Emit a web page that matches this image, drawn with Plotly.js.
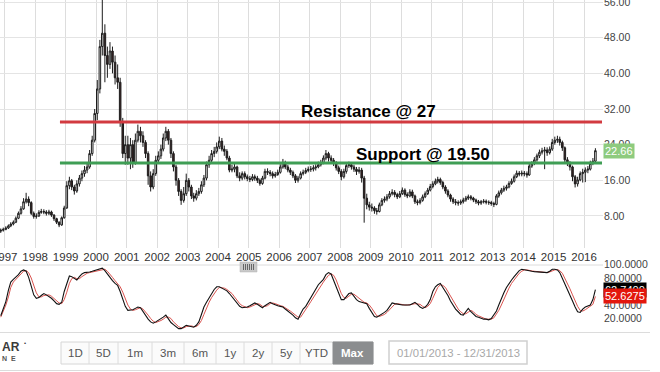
<!DOCTYPE html>
<html><head><meta charset="utf-8">
<script src="https://cdn.plot.ly/plotly-3.0.1.min.js"></script>
<style>html,body{margin:0;padding:0;background:#fff;overflow:hidden}#chart{width:660px;height:372px}</style>
</head><body><div id="chart"></div>
<script>
// ---- DATA (monthly, Nov 1996 .. May 2016) ----
const startYear = 1996, startMonth = 11;
const firstOpen = 4.6;
const closeP = [
 4.8, 5.0,
 5.3, 5.8, 6.2, 6.6, 7.5, 8.6, 9.6, 11.2, 11.8, 11.0, 8.6, 7.9,
 8.0, 8.8, 9.0, 8.9, 8.6, 8.9, 8.2, 7.4, 6.6, 6.0, 7.6, 9.8,
 14.8, 15.9, 14.5, 13.6, 15.2, 16.5, 17.5, 18.3, 19.0, 22.0, 25.0, 31.0,
 36.5, 46.0, 49.0, 44.0, 42.0, 45.0, 42.5, 39.0, 38.0, 29.0, 22.0, 24.0,
 21.0, 24.0, 20.0, 25.0, 27.0, 26.0, 24.5, 22.0, 17.0, 14.5, 17.5, 20.5,
 21.5, 23.0, 25.5, 27.0, 25.0, 22.0, 19.0, 16.0, 13.5, 11.5, 13.0, 16.0,
 14.5, 12.5, 12.0, 13.0, 13.5, 15.0, 16.5, 19.5, 20.5, 22.0, 22.5, 23.5,
 24.8, 23.0, 22.5, 21.0, 18.3, 18.5, 19.0, 17.0, 16.5, 17.5, 16.8, 16.4,
 16.2, 16.8, 16.5, 16.0, 15.3, 16.5, 18.0, 17.8, 17.5, 17.0, 17.3, 17.8,
 19.0, 20.0, 19.0, 18.3, 17.8, 17.0, 16.0, 16.5, 17.5, 17.8, 18.2, 18.5,
 18.5, 18.8, 19.0, 19.5, 20.0, 21.0, 22.0, 21.0, 20.5, 19.8, 18.8, 18.0,
 16.8, 18.0, 19.3, 19.5, 19.0, 18.5, 18.0, 18.3, 16.5, 12.0, 10.5, 10.0,
 9.8, 9.2, 9.0, 10.5, 11.5, 11.8, 12.3, 13.0, 13.3, 12.8, 12.3, 13.0,
 13.8, 12.8, 12.5, 13.4, 12.5, 11.2, 11.0, 11.5, 12.3, 13.0, 13.8, 14.6,
 15.2, 15.8, 16.2, 15.5, 14.5, 13.6, 12.7, 11.8, 11.2, 11.0, 10.9, 11.2,
 11.6, 12.0, 12.3, 12.0, 11.6, 11.2, 10.9, 11.2, 11.3, 11.1, 11.0, 10.8,
 10.6, 12.5, 13.2, 13.8, 14.2, 14.5, 15.3, 15.8, 16.8, 17.6, 17.4, 17.6,
 17.5, 17.2, 19.2, 19.8, 20.6, 21.5, 22.3, 22.6, 22.8, 22.2, 23.0, 24.5,
 25.0, 25.2, 24.5, 23.3, 20.6, 19.8, 19.0, 16.8, 15.2, 16.1, 17.5, 17.8,
 18.3, 18.5, 19.8, 20.3, 22.66
];
const highP = [
 5.2, 5.4,
 5.7, 6.1, 6.6, 7.0, 7.9, 9.0, 10.2, 12.0, 13.2, 12.4, 11.3, 9.0,
 8.6, 9.3, 9.6, 9.5, 9.3, 9.4, 9.2, 8.4, 7.6, 6.8, 7.9, 10.3,
 15.8, 16.8, 16.3, 15.0, 16.0, 17.2, 18.2, 19.2, 20.0, 22.8, 26.0, 32.0,
 38.5, 47.5, 56.5, 51.0, 46.0, 47.0, 46.0, 44.0, 42.0, 39.0, 30.0, 26.0,
 26.0, 25.5, 25.0, 26.5, 28.5, 28.0, 27.0, 25.0, 22.5, 18.0, 18.5, 21.5,
 22.5, 24.0, 26.5, 28.0, 27.5, 25.5, 22.5, 19.5, 16.5, 14.0, 14.5, 17.5,
 16.5, 15.0, 13.2, 13.8, 14.3, 15.8, 17.2, 20.2, 21.5, 22.8, 23.5, 24.5,
 25.8, 25.5, 23.8, 23.0, 21.5, 19.5, 19.8, 19.3, 17.8, 18.0, 18.0, 17.3,
 17.0, 17.4, 17.3, 17.0, 16.4, 17.0, 18.6, 18.7, 18.3, 18.0, 17.9, 18.4,
 19.6, 20.8, 20.4, 19.5, 18.8, 18.2, 17.4, 17.0, 18.0, 18.4, 18.8, 19.1,
 19.2, 19.4, 19.6, 20.2, 20.6, 21.6, 22.8, 22.4, 21.6, 21.0, 20.3, 19.3,
 18.5, 18.6, 20.0, 20.2, 20.0, 19.5, 19.0, 19.0, 18.8, 17.0, 13.0, 11.2,
 10.8, 10.2, 9.8, 11.0, 12.0, 12.4, 12.9, 13.6, 14.0, 13.8, 13.2, 13.6,
 14.4, 14.2, 13.3, 14.0, 13.9, 12.8, 11.7, 12.0, 12.8, 13.5, 14.3, 15.2,
 15.8, 16.4, 16.8, 16.6, 15.9, 14.9, 14.0, 13.0, 12.2, 11.8, 11.5, 11.7,
 12.1, 12.5, 12.8, 12.7, 12.3, 11.9, 11.6, 11.6, 11.8, 11.7, 11.5, 11.4,
 11.2, 12.9, 13.7, 14.3, 14.8, 15.0, 15.8, 16.4, 17.3, 18.2, 18.1, 18.2,
 18.1, 18.0, 19.7, 20.3, 21.2, 22.0, 22.9, 23.3, 23.5, 23.4, 23.6, 25.3,
 25.8, 26.0, 25.8, 24.9, 23.6, 21.2, 20.3, 19.3, 17.2, 16.8, 18.0, 18.6,
 18.9, 19.2, 20.4, 21.0, 23.2
];
const lowP = [
 4.2, 4.5,
 4.8, 5.1, 5.5, 5.9, 6.4, 7.3, 8.3, 9.4, 10.8, 10.2, 8.2, 7.4,
 7.4, 7.8, 8.5, 8.4, 8.1, 8.2, 7.8, 6.9, 6.2, 5.5, 5.8, 7.4,
 9.6, 14.0, 13.8, 12.8, 13.2, 14.6, 15.8, 16.8, 17.6, 18.6, 21.5, 24.5,
 29.5, 35.5, 44.0, 38.0, 39.0, 41.0, 40.0, 37.5, 36.5, 28.0, 21.0, 19.5,
 19.5, 18.5, 18.8, 19.5, 24.5, 24.5, 23.5, 21.0, 15.0, 13.5, 14.0, 17.0,
 19.8, 20.8, 22.5, 24.8, 24.0, 21.0, 18.0, 14.8, 12.5, 10.5, 11.0, 12.5,
 13.5, 11.8, 11.2, 11.5, 12.5, 13.0, 14.5, 16.0, 18.8, 20.0, 21.2, 22.0,
 23.0, 22.5, 21.5, 20.5, 17.8, 17.8, 17.8, 16.5, 15.8, 16.0, 16.2, 15.8,
 15.6, 15.8, 15.9, 15.4, 14.8, 15.0, 16.2, 17.2, 16.9, 16.4, 16.6, 17.0,
 17.5, 18.6, 18.5, 17.8, 17.2, 16.5, 15.4, 15.5, 16.2, 17.1, 17.4, 17.8,
 17.9, 18.0, 18.2, 18.7, 19.1, 19.6, 20.5, 20.2, 19.8, 19.2, 18.2, 17.4,
 16.0, 16.4, 17.5, 18.8, 18.4, 17.9, 17.2, 17.5, 15.5, 6.5, 9.5, 9.2,
 9.0, 8.5, 8.3, 8.8, 10.2, 11.0, 11.3, 11.9, 12.6, 12.2, 11.8, 12.0,
 12.7, 12.3, 12.0, 12.2, 12.0, 10.7, 10.4, 10.6, 11.2, 12.0, 12.7, 13.5,
 14.2, 14.9, 15.3, 15.0, 14.0, 13.0, 12.2, 11.2, 10.7, 10.4, 10.3, 10.5,
 10.8, 11.2, 11.6, 11.5, 11.1, 10.7, 10.4, 10.5, 10.8, 10.6, 10.5, 10.3,
 10.0, 10.4, 12.1, 12.8, 13.4, 13.7, 14.2, 15.0, 15.5, 16.5, 16.9, 16.9,
 16.9, 16.6, 17.0, 18.8, 19.4, 20.2, 21.0, 21.8, 18.5, 21.5, 21.8, 22.6,
 24.0, 24.4, 23.8, 22.6, 20.0, 19.2, 18.2, 15.8, 14.4, 14.6, 15.8, 15.5,
 15.6, 17.6, 18.2, 19.4, 20.1
];
const stochK = [
 24, 35,
 45, 62, 74, 78, 81, 85, 90, 92, 90, 81, 68, 55,
 50, 51, 54, 57, 55, 53, 50, 46, 42, 41, 44, 60,
 72, 83, 82, 79, 77, 82, 86, 88, 88, 89, 90, 91,
 92, 93, 94.5, 91, 86, 80, 76, 72, 69, 60, 49, 38,
 32, 32, 33, 35, 37, 36, 30, 25, 19, 15, 13, 15,
 17, 19, 22, 25, 20, 14, 11, 8, 5, 5, 8, 10,
 9, 8, 7, 10, 15, 26, 37, 44, 51, 57, 63, 67,
 67, 65, 63, 61, 57, 52, 47, 42, 38, 36, 36, 37,
 39, 41, 43, 41, 38, 36, 39, 42, 44, 42, 40, 39,
 38, 37, 34, 31, 29, 25, 21, 19, 27, 34, 38, 44,
 52, 58, 64, 70, 74, 78, 85, 88, 86, 77, 67, 57,
 48, 48, 53, 57, 58, 53, 48, 45, 44, 44, 42, 35,
 28, 23, 22, 24, 27, 29, 32, 38, 43, 42, 41, 40,
 40, 40, 40, 40, 42, 44, 41, 37, 35, 37, 41, 48,
 60, 67, 70, 72, 66, 60, 54, 46, 39, 34, 30, 26,
 25, 30, 35, 30, 26, 23, 22, 20, 19, 19, 18, 20,
 26, 31, 40, 50, 58, 66, 72, 77, 82, 87, 91, 93,
 92, 91, 90.5, 90, 89.5, 89, 89, 88.5, 88, 88, 90, 93,
 93, 92, 88, 80, 72, 64, 55, 46, 37, 30, 29, 34,
 37, 38, 40, 48, 62.74
];
const stochD = [
 22, 30,
 40, 52, 66, 74, 78, 82, 86, 90, 91, 88, 80, 68,
 58, 52, 52, 54, 55, 55, 53, 50, 46, 43, 42, 48,
 59, 72, 79, 81, 79, 79, 82, 85, 87, 88, 89, 90,
 91, 92, 93, 93, 90, 86, 81, 76, 72, 67, 59, 49,
 40, 34, 32, 33, 35, 36, 34, 30, 25, 20, 16, 14,
 15, 17, 19, 22, 22, 20, 15, 11, 8, 6, 6, 8,
 9, 9, 8, 8, 11, 17, 26, 36, 44, 51, 57, 62,
 66, 66, 65, 63, 60, 57, 52, 47, 42, 39, 37, 36,
 37, 39, 41, 42, 41, 38, 38, 39, 42, 43, 42, 40,
 39, 38, 36, 34, 31, 28, 25, 22, 22, 27, 33, 39,
 45, 51, 58, 64, 69, 74, 79, 84, 86, 84, 77, 67,
 57, 51, 50, 53, 56, 56, 53, 49, 46, 44, 43, 40,
 35, 29, 24, 23, 24, 26, 29, 33, 38, 41, 42, 41,
 40, 40, 40, 40, 41, 42, 42, 41, 38, 36, 38, 42,
 50, 58, 66, 70, 69, 66, 60, 53, 46, 40, 34, 30,
 27, 27, 30, 32, 30, 26, 24, 22, 20, 19, 19, 19,
 21, 26, 32, 40, 49, 58, 65, 72, 77, 82, 87, 90,
 92, 92, 91, 90.5, 90, 89.5, 89, 89, 88.5, 88, 89, 91,
 92, 92.5, 91, 87, 80, 72, 64, 55, 46, 38, 32, 31,
 33, 36, 38, 41, 52.6275
];
const priceTicks = [8, 16, 24, 32, 40, 48, 56];
const oscTicks = [20, 40, 60, 80, 100];
const resistanceLabel = 'Resistance @ 27';
const supportLabel = 'Support @ 19.50';
const buttonLabels = ['1D', '5D', '1m', '3m', '6m', '1y', '2y', '5y', 'YTD', 'Max'];
const dateRangeText = '01/01/2013 - 12/31/2013';

// ---- derived ----
const months = closeP.map((_, i) => {
  const m0 = startMonth - 1 + i;
  const y = startYear + Math.floor(m0 / 12);
  const m = (m0 % 12) + 1;
  return y + '-' + String(m).padStart(2, '0') + '-15';
});
const openP = [firstOpen].concat(closeP.slice(0, -1));
const lastPrice = closeP[closeP.length - 1];
const lastK = stochK[stochK.length - 1];
const lastD = stochD[stochD.length - 1];

// ---- layout helpers ----
const W = 660, H = 372;
const px = v => v / W, py = v => 1 - v / H;
const FONT = 'Arial, "Liberation Sans", sans-serif';

const traces = [
  {
    type: 'candlestick', x: months, open: openP, high: highP, low: lowP, close: closeP,
    xaxis: 'x', yaxis: 'y', whiskerwidth: 0,
    increasing: { line: { color: '#1c1c1c', width: 1 }, fillcolor: '#ffffff' },
    decreasing: { line: { color: '#1c1c1c', width: 1 }, fillcolor: '#3d2222' },
    hoverinfo: 'skip'
  },
  { type: 'scatter', mode: 'lines', x: months, y: stochD, xaxis: 'x2', yaxis: 'y2',
    line: { color: '#d9534f', width: 1 }, hoverinfo: 'skip' },
  { type: 'scatter', mode: 'lines', x: months, y: stochK, xaxis: 'x2', yaxis: 'y2',
    line: { color: '#111111', width: 1.1 }, hoverinfo: 'skip' }
];

const P = (o) => Object.assign({ xref: 'paper', yref: 'paper' }, o);
const shapes = [
  { type: 'line', xref: 'x', yref: 'y', x0: '1998-10-25', x1: '2016-08-02', y0: 29.1, y1: 29.1,
    line: { color: '#d23a40', width: 3 } },
  { type: 'line', xref: 'x', yref: 'y', x0: '1998-10-25', x1: '2016-08-02', y0: 19.9, y1: 19.9,
    line: { color: '#3f9e55', width: 3 } },
  P({ type: 'line', x0: 0, x1: px(603), y0: py(265), y1: py(265), line: { color: '#dcdcdc', width: 1 } }),
  P({ type: 'line', x0: 0, x1: px(650), y0: py(332.5), y1: py(332.5), line: { color: '#dcdcdc', width: 1 } }),
  P({ type: 'line', x0: 0, x1: px(650), y0: py(370.5), y1: py(370.5), line: { color: '#dcdcdc', width: 1 } }),
  P({ type: 'rect', x0: px(240), x1: px(257), y0: py(272), y1: py(262), fillcolor: '#c9c9c9', line: { color: '#b0b0b0', width: 0.5 } }),
  P({ type: 'rect', x0: px(61), x1: px(373), y0: py(364), y1: py(342), fillcolor: '#fbfbfb', line: { color: '#d6d6d6', width: 1 } }),
  P({ type: 'rect', x0: px(333), x1: px(373), y0: py(364), y1: py(342), fillcolor: '#8b8d8f', line: { color: '#8b8d8f', width: 1 } }),
  P({ type: 'rect', x0: px(389), x1: px(527), y0: py(364), y1: py(341), fillcolor: '#ffffff', line: { color: '#d0d0d0', width: 1.5 } })
];
[244, 246, 248, 250, 252, 254].forEach(v => shapes.push(P({ type: 'line', x0: px(v - 0.5), x1: px(v - 0.5), y0: py(270), y1: py(264), line: { color: '#666', width: 1 } })));
[89, 118, 152, 184, 216, 244, 272, 300].forEach(v => shapes.push(P({ type: 'line', x0: px(v), x1: px(v), y0: py(364), y1: py(342), line: { color: '#dcdcdc', width: 1 } })));

const btnCenters = [75, 103.5, 135, 168, 200, 230, 258, 286, 316.5, 353];
const A = (o) => Object.assign({ xref: 'paper', yref: 'paper', showarrow: false, xanchor: 'center', yanchor: 'middle' }, o);
const annotations = [
  A({ xref: 'x', yref: 'y', x: '2008-12-01', y: 31.55, text: '<b>' + resistanceLabel + '</b>', font: { family: FONT, size: 17, color: '#000' } }),
  A({ xref: 'x', yref: 'y', x: '2010-09-20', y: 21.7, text: '<b>' + supportLabel + '</b>', font: { family: FONT, size: 17, color: '#000' } }),
  A({ yref: 'y', x: px(603), xanchor: 'left', y: lastPrice, text: lastPrice.toFixed(2), bgcolor: '#8ecb7e', borderpad: 1, font: { family: FONT, size: 11, color: '#fff' } }),
  A({ yref: 'y2', x: px(603), xanchor: 'left', y: lastK, text: lastK.toFixed(4), bgcolor: '#000', borderpad: 1, font: { family: FONT, size: 11, color: '#fff' } }),
  A({ yref: 'y2', x: px(603), xanchor: 'left', y: lastD, text: lastD.toFixed(4), bgcolor: '#e3170d', borderpad: 1, font: { family: FONT, size: 11, color: '#fff' } }),
  A({ x: px(22), xanchor: 'right', y: py(346.5), text: '<b>AR</b>', font: { family: FONT, size: 12, color: '#3a3a3a' } }),
  A({ x: px(25), y: py(343), text: '•', font: { family: FONT, size: 6, color: '#3a3a3a' } }),
  A({ x: px(9), y: py(358), text: '<b>N  E</b>', font: { family: FONT, size: 7, color: '#555' } }),
  A({ x: px(458), y: py(353), text: dateRangeText, font: { family: FONT, size: 11.3, color: '#a8a8a8' } })
];
buttonLabels.forEach((t, i) => annotations.push(A({
  x: px(btnCenters[i]), y: py(353),
  text: t === 'Max' ? '<b>' + t + '</b>' : t,
  font: { family: FONT, size: 11.5, color: t === 'Max' ? '#ffffff' : '#555555' }
})));

const layout = {
  width: W, height: H, margin: { l: 0, r: 0, t: 0, b: 0 },
  paper_bgcolor: '#ffffff', plot_bgcolor: '#ffffff', showlegend: false, boxgap: 0.05,
  xaxis: {
    domain: [0, px(603)], range: ['1996-11-06', '2016-08-14'], type: 'date',
    tick0: '1997-01-01', dtick: 'M12', tickformat: '%Y', anchor: 'y',
    showgrid: true, gridcolor: '#dddddd', gridwidth: 1, zeroline: false, showline: false, ticks: '',
    tickfont: { family: FONT, size: 11.5, color: '#333' }, ticklabeloverflow: 'allow',
    rangeslider: { visible: false }, fixedrange: true
  },
  yaxis: {
    domain: [py(248), 1], range: [0.82, 56.45], side: 'right', anchor: 'x',
    tickvals: priceTicks, tickformat: '.2f', showgrid: true, gridcolor: '#e4e4e4',
    zeroline: false, showline: false, ticks: '', ticklabeloverflow: 'allow',
    tickfont: { family: FONT, size: 10.5, color: '#444' }, fixedrange: true
  },
  xaxis2: {
    domain: [0, px(603)], matches: 'x', anchor: 'y2', type: 'date',
    showgrid: false, showticklabels: false, zeroline: false, showline: false, ticks: '',
    rangeslider: { visible: false }
  },
  yaxis2: {
    domain: [py(332), py(264.5)], range: [0, 100], side: 'right', anchor: 'x2',
    tickvals: oscTicks, tickformat: '.4f', showgrid: false, zeroline: false, showline: false, ticks: '',
    ticklabeloverflow: 'allow',
    tickfont: { family: FONT, size: 10.5, color: '#444' }, fixedrange: true
  },
  shapes: shapes,
  annotations: annotations
};

Plotly.newPlot('chart', traces, layout, { staticPlot: true, displayModeBar: false });
</script>
</body></html>
